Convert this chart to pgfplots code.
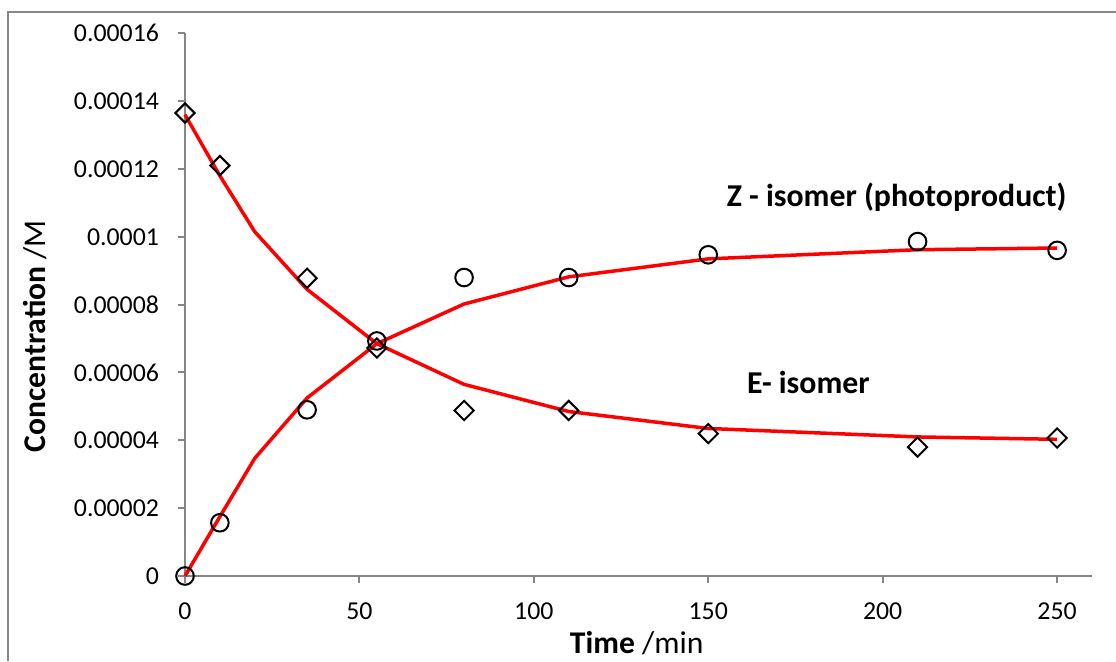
\documentclass[border=0pt]{standalone}
\usepackage{pgfplots}
\pgfplotsset{compat=1.18}
\usepackage{fontspec}
\setmainfont{Carlito}
\definecolor{axgray}{RGB}{134,134,134}
\definecolor{pure red}{RGB}{255,0,0}
\begin{document}
\begin{tikzpicture}[x=0.5pt,y=0.5pt]
\useasboundingbox (0,0) rectangle (1116,661);
\draw[axgray, line width=1pt] (8,0) -- (8,649) -- (1116,649);
\begin{axis}[
  at={(92.5pt,42.5pt)}, anchor=south west,
  scale only axis, width=453.5pt, height=271.35pt,
  xmin=0, xmax=260, ymin=0, ymax=0.00016,
  axis x line*=bottom, axis y line*=left,
  axis line style={axgray, line width=1pt},
  every tick/.style={axgray, line width=1pt},
  tick align=outside, major tick length=3.5pt,
  xtick={0,50,100,150,200,250},
  xticklabels={0,50,100,150,200,250},
  ytick={0,0.00002,0.00004,0.00006,0.00008,0.0001,0.00012,0.00014,0.00016},
  yticklabels={0,0.00002,0.00004,0.00006,0.00008,0.0001,0.00012,0.00014,0.00016},
  scaled y ticks=false, scaled x ticks=false,
  /pgf/number format/assume math mode=true,
  tick label style={font=\fontsize{12.9}{15}\selectfont, black},
  yticklabel style={anchor=east, xshift=-6pt},
  xticklabel style={anchor=center, yshift=-14pt},
  xlabel={\textbf{Time} /min},
  ylabel={\textbf{Concentration} /M},
  label style={font=\fontsize{15.8}{18}\selectfont},
  xlabel style={at={(axis description cs:0.498,-0.1235)}, anchor=center},
  ylabel style={at={(axis description cs:-0.1654,0.442)}, anchor=center},
  clip=false,
]
% fitted curves
\addplot[pure red, line width=1.75pt, mark=none] coordinates {
(0,0.000136) (10,0.000118) (20,0.0001015) (35,0.0000845) (55,0.0000685)
(80,0.0000565) (110,0.0000485) (150,0.0000435) (210,0.000041) (250,0.0000403)};
\addplot[pure red, line width=1.75pt, mark=none] coordinates {
(0,0) (10,0.0000175) (20,0.0000347) (35,0.0000525) (55,0.0000685)
(80,0.0000802) (110,0.0000882) (150,0.0000935) (210,0.0000962) (250,0.0000967)};
% measured E isomer
\addplot[only marks, mark=square, mark size=3.4pt, mark options={rotate=45, draw=black, fill=none, line width=1pt}] coordinates {
(0,0.0001365) (10,0.000121) (35,0.0000878) (55,0.0000672) (80,0.0000488)
(110,0.0000488) (150,0.000042) (210,0.000038) (250,0.0000407)};
% measured Z isomer
\addplot[only marks, mark=o, mark size=4.4pt, mark options={draw=black, fill=none, line width=1pt}] coordinates {
(0,0) (10,0.0000157) (35,0.000049) (55,0.0000693) (80,0.000088)
(110,0.000088) (150,0.0000947) (210,0.0000986) (250,0.000096)};
\node[font=\fontsize{15.9}{18}\selectfont\bfseries] at (axis cs:204,0.0001117) {Z - isomer (photoproduct)};
\node[font=\fontsize{15.9}{18}\selectfont\bfseries] at (axis cs:178.7,0.0000572) {E- isomer};
\end{axis}
\end{tikzpicture}
\end{document}
